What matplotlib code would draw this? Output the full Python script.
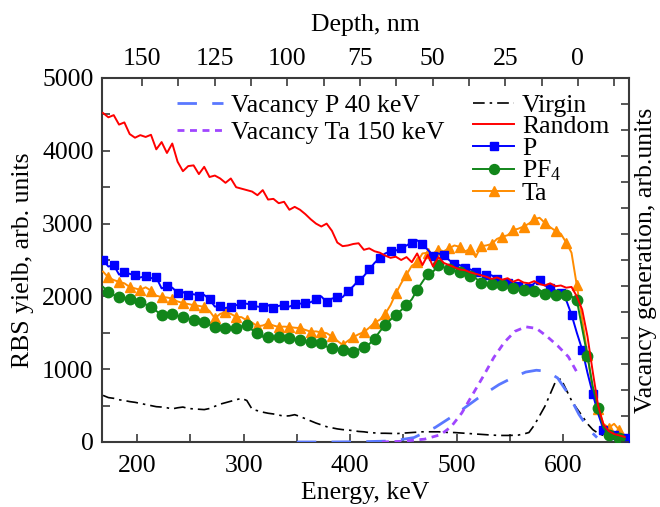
import numpy as np
import matplotlib
matplotlib.use('Agg')
import matplotlib.pyplot as plt
from matplotlib.ticker import MultipleLocator, FixedLocator, NullFormatter

plt.rcParams['font.family'] = ['Liberation Serif', 'DejaVu Serif']
plt.rcParams['mathtext.fontset'] = 'custom'
plt.rcParams['mathtext.rm'] = 'Liberation Serif'
plt.rcParams['mathtext.it'] = 'Liberation Serif:italic'

# ---------------- data ----------------
energy = [168, 173, 178, 183, 188, 193, 198, 203, 208, 213,
          218, 223, 228, 233, 238, 243, 248, 253, 258, 263,
          268, 273, 278, 283, 288, 293, 298, 303, 308, 313,
          318, 323, 328, 333, 338, 343, 348, 353, 358, 363,
          368, 373, 378, 383, 388, 393, 398, 403, 408, 413,
          418, 423, 428, 433, 438, 443, 448, 453, 458, 463,
          468, 473, 478, 483, 488, 493, 498, 503, 508, 513,
          518, 523, 528, 533, 538, 543, 548, 553, 558, 563,
          568, 573, 578, 583, 588, 593, 598, 603, 608, 613,
          618, 623, 628, 633, 638, 643, 648, 653, 658]

random_yield = [4519, 4460, 4490, 4360, 4390, 4230, 4180, 4215, 4190, 4220,
                4020, 4120, 3970, 4100, 3850, 3720, 3790, 3800, 3680, 3780,
                3640, 3660, 3620, 3560, 3620, 3500, 3480, 3460, 3440, 3390,
                3460, 3330, 3340, 3280, 3300, 3190, 3230, 3190, 3130, 3060,
                3000, 2960, 3000, 2900, 2740, 2690, 2700, 2720, 2730, 2640,
                2660, 2620, 2600, 2560, 2530, 2545, 2500, 2540, 2470, 2590,
                2430, 2570, 2410, 2540, 2460, 2430, 2400, 2370, 2360, 2330,
                2310, 2290, 2270, 2240, 2260, 2230, 2250, 2200, 2230, 2190,
                2180, 2210, 2170, 2150, 2180, 2140, 2150, 2120, 2130, 2000,
                1820, 1450, 960, 500, 240, 150, 110, 90, 70]

p_yield = [2500, 2410, 2430, 2300, 2330, 2310, 2290, 2260, 2280, 2250,
           2260, 2110, 2140, 2120, 2050, 2060, 2020, 2030, 2010, 2020,
           1960, 1860, 1870, 1840, 1860, 1880, 1890, 1900, 1880, 1860,
           1850, 1880, 1840, 1870, 1880, 1860, 1890, 1900, 1910, 1920,
           1960, 2000, 1920, 1970, 1990, 1990, 2070, 2140, 2220, 2280,
           2370, 2460, 2530, 2590, 2620, 2630, 2660, 2700, 2740, 2770,
           2720, 2640, 2560, 2590, 2570, 2500, 2440, 2430, 2390, 2370,
           2340, 2290, 2300, 2290, 2240, 2200, 2190, 2170, 2140, 2130,
           2110, 2180, 2220, 2150, 2120, 2080, 2050, 1950, 1750, 1500,
           1270, 950, 660, 390, 170, 120, 90, 65, 50]

pf4_yield = [2130, 2060, 2020, 1990, 1980, 1960, 1950, 1920, 1890, 1850,
             1800, 1745, 1770, 1765, 1730, 1715, 1690, 1675, 1660, 1645,
             1610, 1585, 1575, 1565, 1570, 1565, 1590, 1605, 1540, 1495,
             1445, 1445, 1440, 1440, 1435, 1430, 1410, 1395, 1375, 1370,
             1365, 1355, 1310, 1285, 1270, 1260, 1245, 1235, 1270, 1310,
             1345, 1420, 1520, 1610, 1680, 1750, 1810, 1880, 1960, 2090,
             2200, 2310, 2340, 2430, 2400, 2370, 2350, 2330, 2300, 2280,
             2250, 2190, 2160, 2170, 2150, 2160, 2120, 2110, 2105, 2090,
             2085, 2070, 2090, 2030, 2050, 2020, 2030, 2015, 2000, 1950,
             1560, 1180, 760, 470, 200, 100, 70, 60, 40]

ta_yield = [2340, 2260, 2225, 2200, 2180, 2130, 2110, 2090, 2125, 2080,
            2010, 1990, 1985, 1970, 1930, 1910, 1895, 1880, 1870, 1855,
            1800, 1700, 1760, 1785, 1760, 1720, 1715, 1670, 1640, 1590,
            1600, 1630, 1600, 1580, 1585, 1580, 1570, 1565, 1540, 1515,
            1520, 1505, 1495, 1450, 1390, 1335, 1390, 1440, 1480, 1510,
            1570, 1640, 1680, 1760, 1880, 2040, 2180, 2300, 2420, 2470,
            2590, 2600, 2590, 2640, 2620, 2660, 2700, 2680, 2620, 2650,
            2540, 2690, 2700, 2720, 2790, 2820, 2840, 2910, 2930, 2960,
            3000, 3060, 3080, 3010, 2950, 2900, 2860, 2740, 2600, 2150,
            1690, 1200, 700, 450, 250, 195, 250, 160, 90]

virgin_yield = [640, 610, 600, 580, 570, 555, 545, 530, 515, 500,
                485, 480, 470, 455, 470, 480, 460, 455, 450, 445,
                460, 490, 520, 540, 560, 580, 600, 570, 450, 430,
                410, 395, 385, 370, 355, 360, 375, 350, 320, 290,
                260, 235, 210, 195, 180, 170, 165, 155, 145, 140,
                130, 125, 120, 120, 118, 115, 120, 125, 130, 135,
                140, 140, 140, 140, 135, 130, 130, 125, 120, 115,
                110, 105, 100, 95, 92, 90, 90, 92, 95, 110,
                130, 230, 360, 490, 660, 830, 870, 720, 570, 460,
                360, 250, 170, 120, 90, 70, 50, 30, 15]

vac_p_energy = [350, 380, 410, 440, 460, 480, 500, 520, 540, 555,
                565, 575, 585, 595, 605, 615, 625, 632]
vac_p = [0.0, 0.0, 0.001, 0.004, 0.017, 0.056, 0.109, 0.168, 0.221, 0.252,
         0.269, 0.276, 0.272, 0.246, 0.185, 0.106, 0.045, 0.017]

vac_ta_energy = [430, 450, 470, 485, 495, 505, 515, 525, 535, 545,
                 555, 565, 575, 585, 595, 605, 613]
vac_ta = [0.0, 0.003, 0.011, 0.028, 0.059, 0.112, 0.182, 0.252, 0.325, 0.384,
          0.426, 0.443, 0.437, 0.406, 0.370, 0.328, 0.269]

depth_labels = [150, 125, 100, 75, 50, 25, 0]
depth_minor = [137.5, 112.5, 87.5, 62.5, 37.5, 12.5, -12.5]

# ---------------- figure ----------------
fig = plt.figure(figsize=(6.6, 5.07), dpi=100)
ax = fig.add_axes([102 / 660, 65 / 507, 527 / 660, 364 / 507])

spine_col = '#3a3a3a'
FS = 18.5

ax.plot(energy, virgin_yield, color='black', lw=1.2,
        linestyle=(0, (7, 3, 1.5, 3)), label='Virgin', zorder=3)
ax.plot(energy, ta_yield, color='#ff8c00', lw=1.4, marker='^', ms=7.5,
        markevery=(1, 2), label='Ta', zorder=4)
ax.plot(energy, p_yield, color='#0000ff', lw=1.4, marker='s', ms=6,
        markevery=(0, 2), label='P', zorder=5)
ax.plot(energy, pf4_yield, color='#11861a', lw=1.4, marker='o', ms=7.5,
        markevery=(1, 2), label='PF$_4$', zorder=6)
ax.plot(energy, random_yield, color='#ff0000', lw=1.4, label='Random', zorder=7)

ax.set_xlim(167, 662)
ax.set_ylim(0, 5000)
ax.xaxis.set_major_locator(MultipleLocator(100))
ax.xaxis.set_minor_locator(MultipleLocator(50))
ax.yaxis.set_major_locator(MultipleLocator(1000))
ax.yaxis.set_minor_locator(MultipleLocator(500))
ax.tick_params(which='both', direction='in', length=6, width=1.2,
               color=spine_col, top=False, right=False, labelsize=FS)
ax.tick_params(axis='x', pad=9)
ax.tick_params(axis='y', pad=6)
ax.set_xlabel('Energy, keV', fontsize=FS, labelpad=4)
ax.set_ylabel('RBS yielb, arb. units', fontsize=FS, labelpad=6)
for s in ax.spines.values():
    s.set_linewidth(1.5)
    s.set_color(spine_col)

# top depth axis
surface_energy = 614.0
kev_per_nm = 2.729
ax_top = ax.twiny()
ax_top.set_xlim(ax.get_xlim())
ax_top.xaxis.set_major_locator(FixedLocator([surface_energy - d * kev_per_nm for d in depth_labels]))
ax_top.set_xticklabels([str(d) for d in depth_labels])
ax_top.xaxis.set_minor_locator(FixedLocator([surface_energy - d * kev_per_nm for d in depth_minor]))
ax_top.tick_params(which='both', direction='in', length=6, width=1.2,
                   color=spine_col, labelsize=FS, pad=6)
ax_top.set_xlabel('Depth, nm', fontsize=FS, labelpad=12)
for s in ax_top.spines.values():
    s.set_visible(False)

# right vacancy axis
ax_r = ax.twinx()
ax_r.set_ylim(0, 1.4)
ax_r.yaxis.set_major_locator(MultipleLocator(0.1))
ax_r.yaxis.set_major_formatter(NullFormatter())
ax_r.tick_params(which='both', direction='in', length=6, width=1.2,
                 color=spine_col, labelright=False)
ax_r.set_ylabel('Vacancy generation, arb.units', fontsize=FS, labelpad=4)
for s in ax_r.spines.values():
    s.set_visible(False)

ax_r.plot(vac_p_energy, vac_p, color='#5a78ff', lw=2.0,
          linestyle=(0, (7, 5.5)), label='Vacancy P 40 keV')
ax_r.plot(vac_ta_energy, vac_ta, color='#a046ff', lw=2.0,
          linestyle=(0, (2.5, 2)), label='Vacancy Ta 150 keV')

leg1 = ax_r.legend(loc='upper left', bbox_to_anchor=(0.142, 0.957),
                   frameon=False, fontsize=FS, handlelength=1.8,
                   handletextpad=0.3, borderpad=0, borderaxespad=0,
                   labelspacing=0.18)

h, l = ax.get_legend_handles_labels()
order = ['Virgin', 'Random', 'P', 'PF$_4$', 'Ta']
hh = [h[l.index(o)] for o in order]
leg2 = ax_r.legend(hh, order, loc='upper left', bbox_to_anchor=(0.704, 0.957),
                   frameon=False, fontsize=FS, handlelength=1.6,
                   handletextpad=0.3, borderpad=0, borderaxespad=0,
                   labelspacing=-0.05, markerscale=0.95)
ax_r.add_artist(leg1)

fig.savefig('out.png', dpi=100)
